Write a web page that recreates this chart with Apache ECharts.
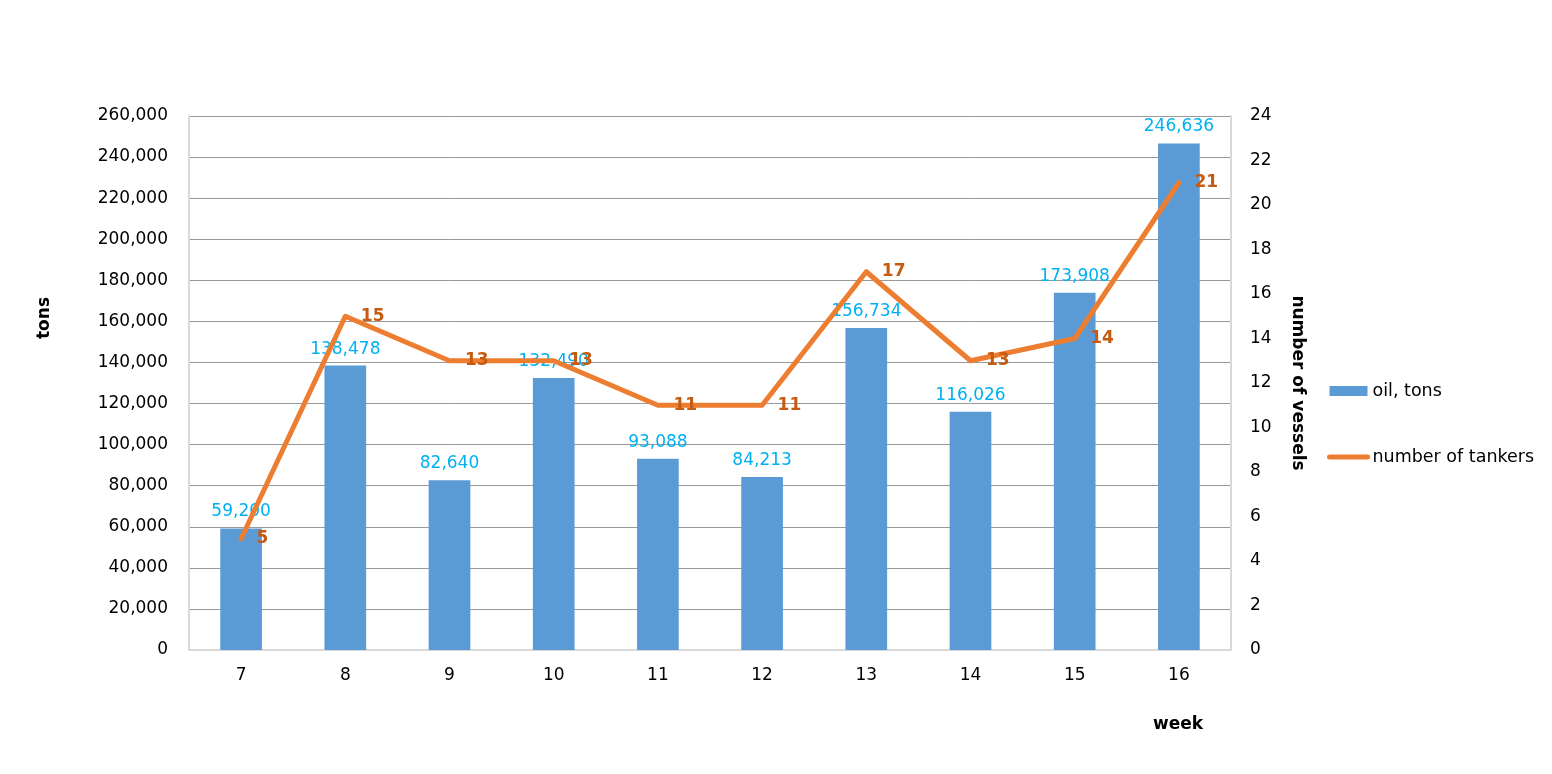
<!DOCTYPE html>
<html>
<head>
<meta charset="utf-8">
<script src="https://cdn.jsdelivr.net/npm/echarts@6/dist/echarts.min.js"></script>
<style>
    html, body { margin: 0; padding: 0; background: #fff; }
    #chart { width: 1552px; height: 774px; }
</style>
</head>
<body>
<div id="chart"></div>
<script>
// 数据
const weeks = ["7", "8", "9", "10", "11", "12", "13", "14", "15", "16"];
const oilTons = [59200, 138478, 82640, 132490, 93088, 84213, 156734, 116026, 173908, 246636];
const tankers = [5, 15, 13, 13, 11, 11, 17, 13, 14, 21];

const font = "DejaVu Sans";

const chart = echarts.init(document.getElementById("chart"));

const option = {
    backgroundColor: "#fff",
    textStyle: { fontFamily: font },
    grid: { left: 189, right: 321, top: 116, bottom: 124 },
    legend: {
        orient: "vertical",
        left: 1327,
        top: 382,
        padding: 0,
        itemWidth: 38,
        itemHeight: 10,
        itemGap: 48,
        textStyle: { fontFamily: font, fontSize: 17.5, color: "#000" },
        data: [
            { name: "oil, tons", icon: "rect" },
            {
                name: "number of tankers",
                itemStyle: { opacity: 0 },
                lineStyle: { width: 5, cap: "round" },
            },
        ],
    },
    graphic: [
        // x轴标题
        {
            type: "text",
            x: 1178,
            y: 725,
            style: {
                text: "week",
                font: "bold 17px " + font,
                fill: "#000",
                align: "center",
                verticalAlign: "middle",
            },
        },
        // 左侧y轴标题
        {
            type: "text",
            x: 45,
            y: 318,
            rotation: Math.PI / 2,
            style: {
                text: "tons",
                font: "bold 17px " + font,
                fill: "#000",
                align: "center",
                verticalAlign: "middle",
            },
        },
    ],
    xAxis: {
        type: "category",
        data: weeks,
        axisLine: { lineStyle: { color: "#d9d9d9", width: 2 } },
        axisTick: { show: false },
        axisLabel: { margin: 17, fontSize: 17, color: "#000", fontFamily: font },
    },
    yAxis: [
        {
            type: "value",
            min: 0,
            max: 260000,
            interval: 20000,
            axisLine: { show: true, lineStyle: { color: "#d9d9d9", width: 2 } },
            axisTick: { show: false },
            axisLabel: {
                margin: 21,
                fontSize: 17,
                color: "#000",
                fontFamily: font,
                formatter: v => v.toLocaleString("en-US"),
            },
            splitLine: { lineStyle: { color: "#999", width: 1 } },
        },
        {
            type: "value",
            min: 0,
            max: 24,
            interval: 2,
            name: "number of vessels",
            nameLocation: "middle",
            nameRotate: -90,
            nameGap: 58,
            nameTextStyle: { fontSize: 17, fontWeight: "bold", color: "#000", fontFamily: font },
            axisLine: { show: true, lineStyle: { color: "#d9d9d9", width: 2 } },
            axisTick: { show: false },
            axisLabel: { margin: 19, fontSize: 17, color: "#000", fontFamily: font },
            splitLine: { show: false },
        },
    ],
    series: [
        {
            name: "oil, tons",
            type: "bar",
            data: oilTons,
            barWidth: "40%",
            itemStyle: { color: "#5b9bd5" },
            label: {
                show: true,
                position: "top",
                distance: 8,
                color: "#00b0f0",
                fontSize: 17,
                fontFamily: font,
                formatter: p => p.value.toLocaleString("en-US"),
            },
        },
        {
            name: "number of tankers",
            type: "line",
            yAxisIndex: 1,
            data: tankers,
            symbol: "circle",
            symbolSize: 3,
            itemStyle: { color: "#ed7d31" },
            lineStyle: { color: "#ed7d31", width: 5, cap: "round", join: "round" },
            label: {
                show: true,
                position: "right",
                distance: 14,
                color: "#c55a11",
                fontSize: 17,
                fontWeight: "bold",
                fontFamily: font,
            },
        },
    ],
};

chart.setOption(option);
</script>
</body>
</html>
